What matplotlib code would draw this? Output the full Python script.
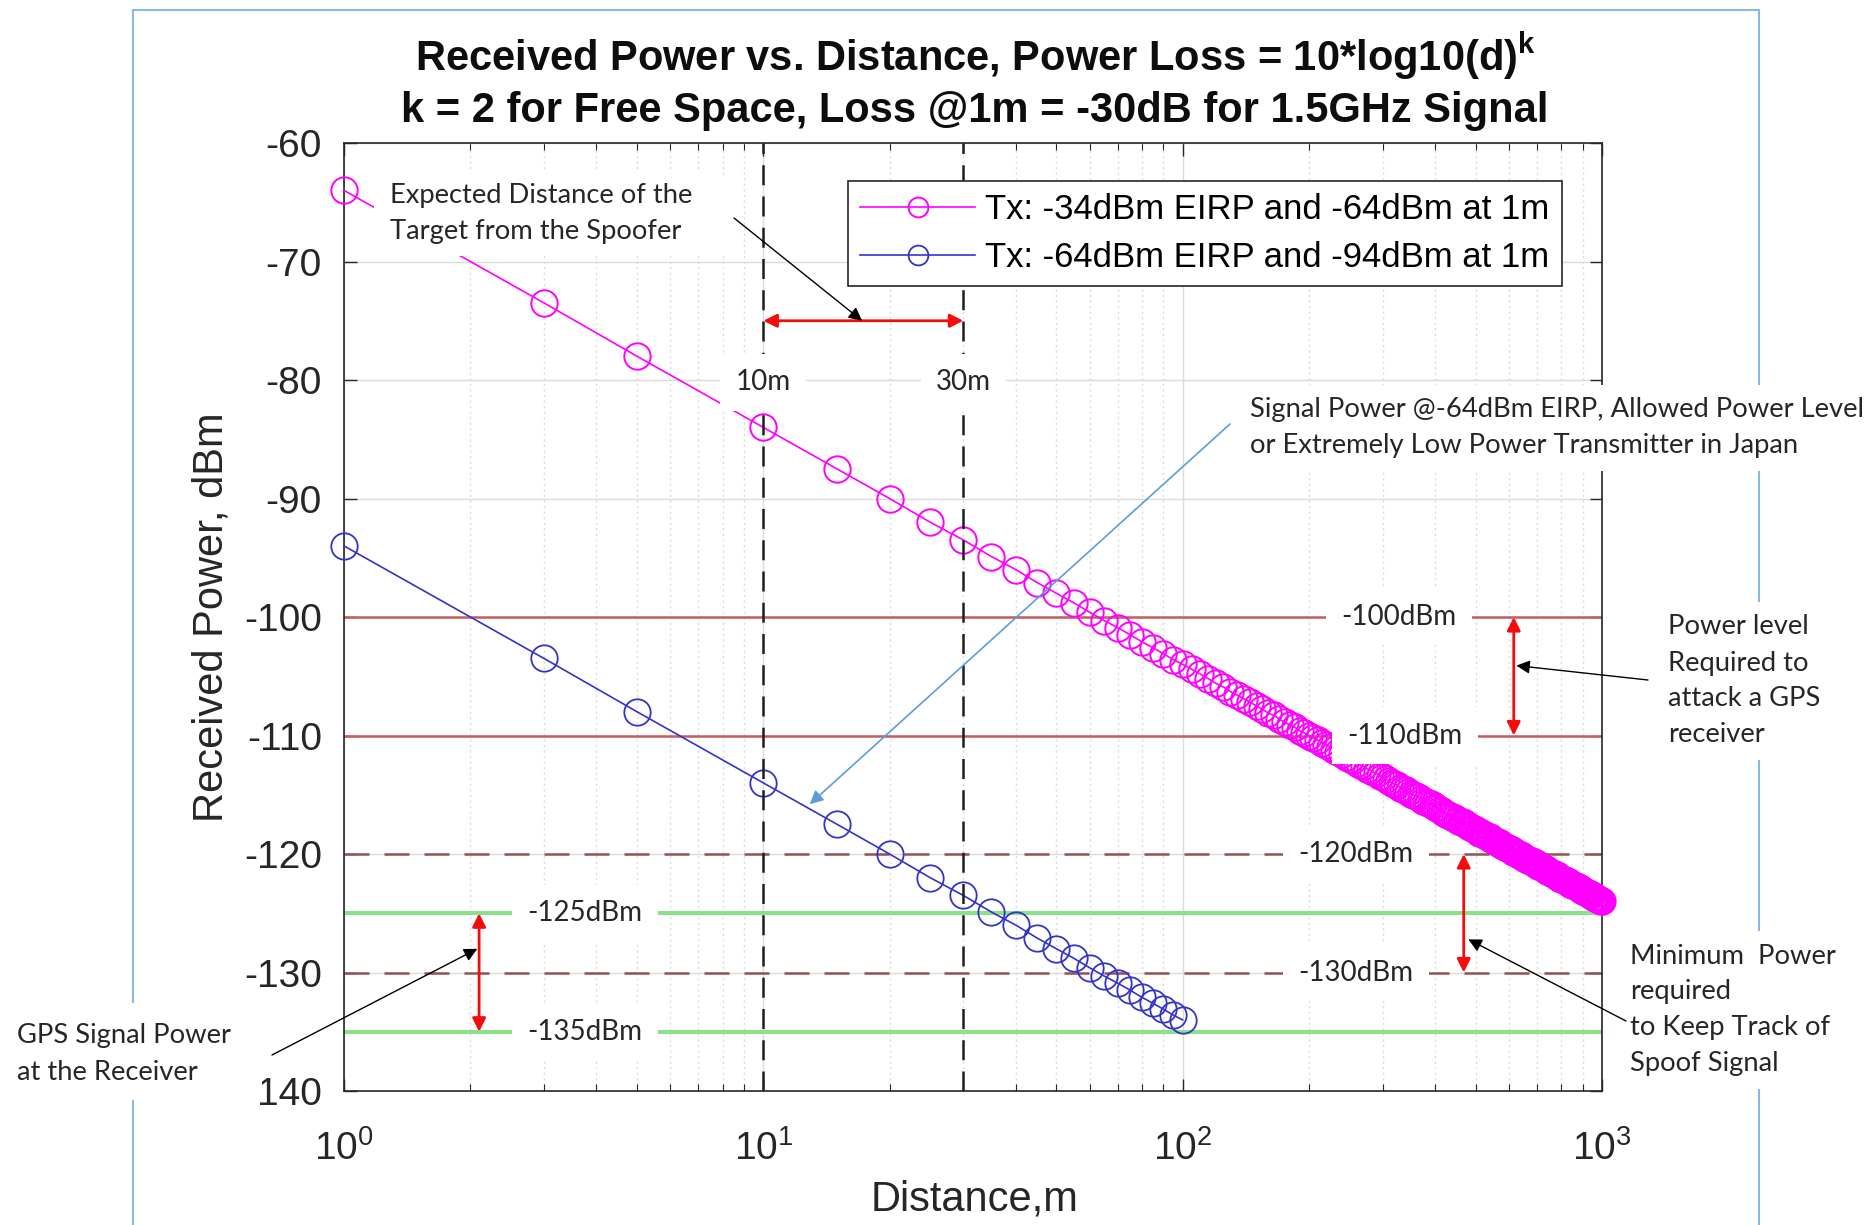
import matplotlib
matplotlib.use("Agg")
import matplotlib.pyplot as plt
from matplotlib.patches import Rectangle
from matplotlib.transforms import IdentityTransform
from matplotlib.ticker import LogLocator, NullFormatter, FixedLocator

plt.rcParams['font.family'] = ['Liberation Sans', 'DejaVu Sans']
plt.rcParams['axes.unicode_minus'] = False
plt.rcParams['mathtext.fontset'] = 'custom'
plt.rcParams['mathtext.rm'] = 'Liberation Sans'
plt.rcParams['mathtext.it'] = 'Liberation Sans:italic'
plt.rcParams['mathtext.bf'] = 'Liberation Sans:bold'

# ---------------- data ----------------
dist_high = [1, 3, 5] + list(range(10, 1001, 5))
power_high = [
    -64.0, -73.5, -78.0,
    -84.0, -87.5, -90.0, -92.0, -93.5, -94.9, -96.0, -97.1, -98.0, -98.8,
    -99.6, -100.3, -100.9, -101.5, -102.1, -102.6, -103.1, -103.6, -104.0, -104.4,
    -104.8, -105.2, -105.6, -105.9, -106.3, -106.6, -106.9, -107.2, -107.5, -107.8,
    -108.1, -108.3, -108.6, -108.9, -109.1, -109.3, -109.6, -109.8, -110.0, -110.2,
    -110.4, -110.6, -110.8, -111.0, -111.2, -111.4, -111.6, -111.8, -112.0, -112.1,
    -112.3, -112.5, -112.6, -112.8, -112.9, -113.1, -113.2, -113.4, -113.5, -113.7,
    -113.8, -114.0, -114.1, -114.2, -114.4, -114.5, -114.6, -114.8, -114.9, -115.0,
    -115.1, -115.2, -115.4, -115.5, -115.6, -115.7, -115.8, -115.9, -116.0, -116.1,
    -116.3, -116.4, -116.5, -116.6, -116.7, -116.8, -116.9, -117.0, -117.1, -117.2,
    -117.3, -117.3, -117.4, -117.5, -117.6, -117.7, -117.8, -117.9, -118.0, -118.1,
    -118.2, -118.2, -118.3, -118.4, -118.5, -118.6, -118.6, -118.7, -118.8, -118.9,
    -119.0, -119.0, -119.1, -119.2, -119.3, -119.3, -119.4, -119.5, -119.6, -119.6,
    -119.7, -119.8, -119.8, -119.9, -120.0, -120.1, -120.1, -120.2, -120.3, -120.3,
    -120.4, -120.5, -120.5, -120.6, -120.6, -120.7, -120.8, -120.8, -120.9, -121.0,
    -121.0, -121.1, -121.1, -121.2, -121.3, -121.3, -121.4, -121.4, -121.5, -121.6,
    -121.6, -121.7, -121.7, -121.8, -121.8, -121.9, -122.0, -122.0, -122.1, -122.1,
    -122.2, -122.2, -122.3, -122.3, -122.4, -122.4, -122.5, -122.5, -122.6, -122.6,
    -122.7, -122.7, -122.8, -122.8, -122.9, -122.9, -123.0, -123.0, -123.1, -123.1,
    -123.2, -123.2, -123.3, -123.3, -123.4, -123.4, -123.5, -123.5, -123.6, -123.6,
    -123.6, -123.7, -123.7, -123.8, -123.8, -123.9, -123.9, -124.0, -124.0,
]
dist_low = [1, 3, 5] + list(range(10, 101, 5))
power_low = [
    -94.0, -103.5, -108.0,
    -114.0, -117.5, -120.0, -122.0, -123.5, -124.9, -126.0, -127.1, -128.0, -128.8,
    -129.6, -130.3, -130.9, -131.5, -132.1, -132.6, -133.1, -133.6, -134.0,
]
series_labels = ["Tx: -34dBm EIRP and -64dBm at 1m", "Tx: -64dBm EIRP and -94dBm at 1m"]

attack_levels = [-100, -110]
track_levels = [-120, -130]
gps_levels = [-125, -135]
marker_distances = [10, 30]
distance_labels = ["10m", "30m"]

y_ticks = [-60, -70, -80, -90, -100, -110, -120, -130, -140]
y_ticklabels = ["-60", "-70", "-80", "-90", "-100", "-110", "-120", "-130", "-140"]

# ---------------- figure ----------------
W, H = 1872, 1225
fig = plt.figure(figsize=(W / 100, H / 100), dpi=100)
fig.patch.set_facecolor('white')

# light-blue outer frame
fig.add_artist(Rectangle((133 / W, -0.02), (1759 - 133) / W, 1.02 - 10 / H,
                         transform=fig.transFigure, fill=False,
                         edgecolor=(0.55, 0.72, 0.88), lw=1.5, zorder=-1))

ax_l, ax_r, ax_t, ax_b = 344, 1602, 143, 1091
ax = fig.add_axes([ax_l / W, 1 - ax_b / H, (ax_r - ax_l) / W, (ax_b - ax_t) / H])

ax.set_xscale('log')
ax.set_xlim(1, 1000)
ax.set_ylim(-140, -60)

ax.set_yticks(y_ticks)
ax.set_yticklabels(y_ticklabels)
ax.xaxis.set_major_locator(FixedLocator([1, 10, 100, 1000]))
ax.xaxis.set_minor_locator(LogLocator(base=10, subs=range(2, 10)))
ax.xaxis.set_minor_formatter(NullFormatter())

ax.tick_params(which='both', direction='in', top=True, right=True, colors='0.15')
ax.tick_params(which='major', length=9, width=1.0, labelsize=28)
ax.tick_params(which='minor', length=5, width=0.8)
ax.tick_params(axis='y', pad=16)
ax.tick_params(axis='x', pad=28)
for s in ax.spines.values():
    s.set_color('0.15')
    s.set_linewidth(1.2)

ax.set_axisbelow(True)
ax.grid(which='major', color='0.86', lw=1.0, ls='-')
ax.grid(which='minor', axis='x', color='0.86', lw=1.0, ls=(0, (1.5, 2.5)))

# reference levels
for lv in attack_levels:
    ax.axhline(lv, color=(0.78, 0.36, 0.36), lw=1.8, zorder=1.5)
for lv in track_levels:
    ax.axhline(lv, color=(0.58, 0.32, 0.32), lw=1.8, dashes=(10, 6), zorder=1.5)
for lv in gps_levels:
    ax.axhline(lv, color=(0.55, 0.88, 0.55), lw=3.0, zorder=1.5)

# data series
h1, = ax.plot(dist_high, power_high, '-o', color=(1.0, 0.0, 1.0), lw=1.2,
              ms=19, mfc='none', mew=1.4, zorder=3, clip_on=False)
h2, = ax.plot(dist_low, power_low, '-o', color=(0.2, 0.2, 0.78), lw=1.2,
              ms=19, mfc='none', mew=1.3, zorder=3, clip_on=False)

# vertical distance markers
for xv in marker_distances:
    ax.axvline(xv, color='0.12', lw=1.8, dashes=(8, 4.5), zorder=3.5)

leg = ax.legend([h1, h2], series_labels, loc='upper right',
                bbox_to_anchor=(0.968, 0.960), borderaxespad=0, fontsize=25,
                frameon=True, fancybox=False, edgecolor='0.15', framealpha=1,
                handlelength=3.3, handletextpad=0.3, labelspacing=0.42,
                borderpad=0.35, markerscale=0.75)
leg.get_frame().set_linewidth(1.2)
leg.set_zorder(8)

# ---------------- labels on lines ----------------
box = dict(boxstyle='square,pad=0.55', fc='white', ec='none')
lab_font = dict(family=['Lato', 'DejaVu Sans'], fontsize=20, color='0.15',
                ha='center', va='center', zorder=6, bbox=box)
ax.text(328, -100, "-100dBm", **lab_font)
ax.text(339, -110, "-110dBm", **lab_font)
ax.text(259, -120, "-120dBm", **lab_font)
ax.text(259, -130, "-130dBm", **lab_font)
ax.text(3.76, -125, "-125dBm", **lab_font)
ax.text(3.76, -135, "-135dBm", **lab_font)
for xv, lbl in zip(marker_distances, distance_labels):
    ax.text(xv, -80.2, lbl, **lab_font)

# ---------------- red double arrows ----------------
red = dict(arrowstyle='<|-|>', color=(0.95, 0.05, 0.05), lw=2.0,
           mutation_scale=20, shrinkA=0, shrinkB=0)
ax.annotate('', xy=(30, -75), xytext=(10, -75), arrowprops=red, zorder=7)
ax.annotate('', xy=(616, -100), xytext=(616, -110), arrowprops=red, zorder=7)
ax.annotate('', xy=(468, -120), xytext=(468, -130), arrowprops=red, zorder=7)
ax.annotate('', xy=(2.1, -125), xytext=(2.1, -135), arrowprops=red, zorder=7)

# ---------------- annotations ----------------
def fp(x, y):
    return (x, H - y)


def white_box(x0, y0, x1, y1):
    """white text-box background given in figure pixels (top-left origin)"""
    r = Rectangle((x0, H - y1), x1 - x0, y1 - y0, transform=IdentityTransform(),
                  fc='white', ec='none', zorder=5.5, clip_on=False)
    ax.add_artist(r)


note_font = dict(family=['Lato', 'DejaVu Sans'], fontsize=19.7, color='0.15',
                 ha='left', va='center', linespacing=1.55, zorder=6,
                 bbox=dict(boxstyle='square,pad=0.45', fc='white', ec='none'),
                 annotation_clip=False)

blk = dict(arrowstyle='-|>', color='black', lw=1.0, mutation_scale=20,
           shrinkA=0, shrinkB=0)

white_box(374, 177, 738, 256)
ax.annotate("Expected Distance of the\nTarget from the Spoofer",
            xy=fp(390, 213), xycoords='figure pixels', **note_font)
ax.annotate('', xy=(17.2, -75), xytext=fp(734, 218), textcoords='figure pixels',
            arrowprops=blk, annotation_clip=False, zorder=7)

ax.annotate("Signal Power @-64dBm EIRP, Allowed Power Level\n"
            "or Extremely Low Power Transmitter in Japan",
            xy=fp(1250, 428), xycoords='figure pixels', **note_font)
ax.annotate('', xy=(12.9, -115.8), xytext=fp(1230, 424), textcoords='figure pixels',
            arrowprops=dict(arrowstyle='-|>', color=(0.35, 0.62, 0.86), lw=1.2,
                            mutation_scale=20, shrinkA=0, shrinkB=0),
            annotation_clip=False, zorder=7)

ax.annotate("Power level\nRequired to\nattack a GPS\nreceiver",
            xy=fp(1668, 681), xycoords='figure pixels', **note_font)
ax.annotate('', xy=(625, -104.1), xytext=fp(1648, 680), textcoords='figure pixels',
            arrowprops=blk, annotation_clip=False, zorder=7)

ax.annotate("Minimum  Power\nrequired\nto Keep Track of\nSpoof Signal",
            xy=fp(1630, 1010), xycoords='figure pixels', **note_font)
ax.annotate('', xy=(480, -127.2), xytext=fp(1626, 1021), textcoords='figure pixels',
            arrowprops=blk, annotation_clip=False, zorder=7)

white_box(0, 1003, 262, 1100)
ax.annotate("GPS Signal Power\nat the Receiver",
            xy=fp(17, 1054), xycoords='figure pixels', **note_font)
ax.annotate('', xy=(2.08, -128.0), xytext=fp(272, 1055), textcoords='figure pixels',
            arrowprops=blk, annotation_clip=False, zorder=7)

# ---------------- titles & axis labels ----------------
fig.text(975 / W, 1 - 56 / H,
         r"Received Power vs. Distance, Power Loss = 10*log10(d)$^{\mathbf{k}}$",
         ha='center', va='center', fontsize=30, fontweight='bold', color='0.05')
fig.text(975 / W, 1 - 111 / H,
         "k = 2 for Free Space, Loss @1m = -30dB for 1.5GHz Signal",
         ha='center', va='center', fontsize=30, fontweight='bold', color='0.05')
fig.text(212 / W, 1 - 617 / H, "Received Power, dBm", rotation=90,
         ha='center', va='center', fontsize=30, color='0.15')
fig.text(975 / W, 1 - 1200 / H, "Distance,m",
         ha='center', va='center', fontsize=30, color='0.15')

fig.savefig("out.png", dpi=100)
